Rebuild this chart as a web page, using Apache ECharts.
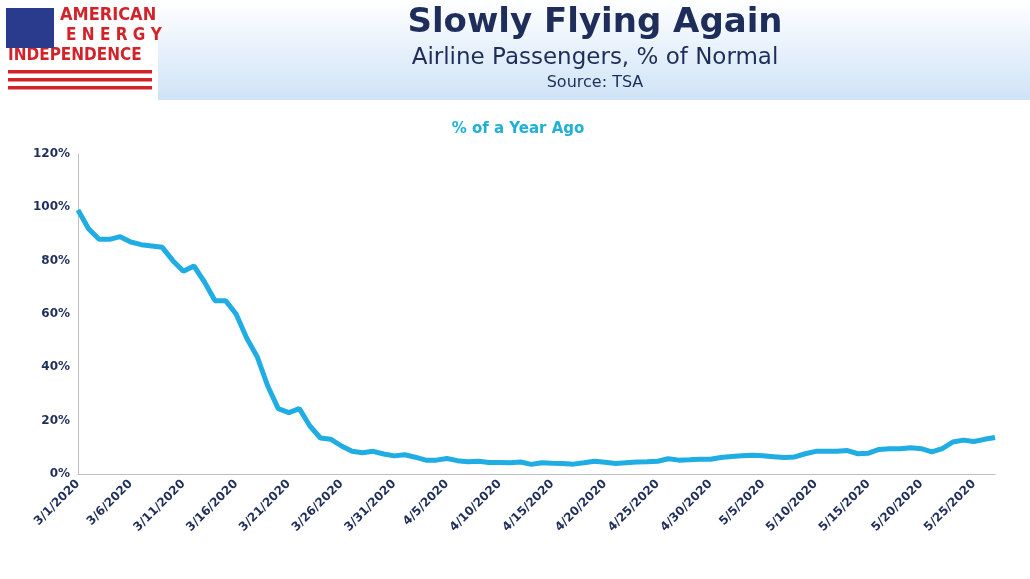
<!DOCTYPE html>
<html><head><meta charset="utf-8">
<script src="https://cdn.jsdelivr.net/npm/echarts@6/dist/echarts.min.js"></script>
<style>html,body{margin:0;padding:0;background:#fff}#c{width:1030px;height:579px}</style>
</head><body><div id="c"></div>
<script>
// daily values, 3/1/2020 .. 5/26/2020
const startDate = new Date(2020, 2, 1);
const pctOfYearAgo = [
  99, 92, 88, 88, 89, 87, 86, 85.5, 85, 80,
  76, 78, 72, 65, 65, 60, 51, 44, 33, 24.5,
  23, 24.5, 18, 13.5, 13, 10.5, 8.5, 8, 8.5, 7.5,
  6.8, 7.2, 6.3, 5.2, 5.2, 5.8, 5, 4.6, 4.8, 4.3,
  4.3, 4.2, 4.5, 3.6, 4.2, 4, 3.9, 3.7, 4.2, 4.8,
  4.4, 3.9, 4.2, 4.5, 4.6, 4.8, 5.7, 5.2, 5.3, 5.5,
  5.5, 6.2, 6.6, 6.8, 7, 6.8, 6.5, 6.2, 6.4, 7.6,
  8.5, 8.5, 8.5, 8.8, 7.6, 7.8, 9.2, 9.5, 9.5, 9.8,
  9.5, 8.3, 9.5, 12, 12.7, 12.2, 13, 13.7
];
const dates = pctOfYearAgo.map(function (v, i) {
  let d = new Date(startDate.getTime() + i * 86400000);
  return (d.getMonth() + 1) + '/' + d.getDate() + '/' + d.getFullYear();
});

const navy = '#1f2d5a';
const chart = echarts.init(document.getElementById('c'));

// logo: flag + stripes
let flag = [];
flag.push({type: 'rect', shape: {x: 6, y: 8, width: 48, height: 40}, style: {fill: '#2a3a8c'}, z: 1});
for (let s = 0; s < 3; s++) {
  flag.push({type: 'rect', shape: {x: 8, y: 70 + s * 8, width: 144, height: 3.5}, style: {fill: '#d2232a'}, z: 1});
}

chart.setOption({
  animation: false,
  graphic: [
    {type: 'rect', shape: {x: 0, y: 0, width: 1030, height: 100}, z: -10,
      style: {fill: new echarts.graphic.LinearGradient(0, 0, 0, 1, [
        {offset: 0, color: '#ffffff'}, {offset: 1, color: '#cfe3f6'}])}},
    {type: 'rect', shape: {x: 0, y: 0, width: 158, height: 100}, z: -9, style: {fill: '#ffffff'}},
    {type: 'group', children: flag},
    {type: 'text', left: 60, top: 6, style: {text: 'AMERICAN', font: 'bold 18px "DejaVu Sans Condensed"', fill: '#d2232a'}},
    {type: 'text', left: 66, top: 27, style: {text: 'E N E R G Y', font: 'bold 17px "DejaVu Sans Condensed"', fill: '#d2232a'}},
    {type: 'text', left: 8, top: 47, style: {text: 'INDEPENDENCE', font: 'bold 17px "DejaVu Sans Condensed"', fill: '#d2232a'}},
    {type: 'text', x: 595, y: 6, style: {text: 'Slowly Flying Again', font: 'bold 34px "DejaVu Sans"', fill: navy, align: 'center'}},
    {type: 'text', x: 595, y: 47, style: {text: 'Airline Passengers, % of Normal', font: '23px "DejaVu Sans"', fill: navy, align: 'center'}},
    {type: 'text', x: 595, y: 75, style: {text: 'Source: TSA', font: '16px "DejaVu Sans"', fill: navy, align: 'center'}}
  ],
  title: {text: '% of a Year Ago', left: 513, top: 117, textAlign: 'center',
    textStyle: {color: '#1fb0d8', fontSize: 15, fontWeight: 'bold', fontFamily: 'DejaVu Sans'}},
  grid: {left: 78, right: 35, top: 154, bottom: 105},
  xAxis: {
    type: 'category', data: dates, boundaryGap: false,
    axisLine: {lineStyle: {color: '#bfbfbf'}},
    axisTick: {show: false},
    axisLabel: {interval: 4, rotate: 45, color: navy, fontWeight: 'bold', fontSize: 12, fontFamily: 'DejaVu Sans', margin: 8}
  },
  yAxis: {
    type: 'value', min: 0, max: 120, interval: 20,
    splitLine: {show: false},
    axisLine: {show: true, lineStyle: {color: '#bfbfbf'}},
    axisLabel: {formatter: '{value}%', color: navy, fontWeight: 'bold', fontSize: 12, fontFamily: 'DejaVu Sans'}
  },
  series: [{
    type: 'line', data: pctOfYearAgo, symbol: 'none',
    lineStyle: {color: '#1fade3', width: 5}
  }]
});
</script></body></html>
